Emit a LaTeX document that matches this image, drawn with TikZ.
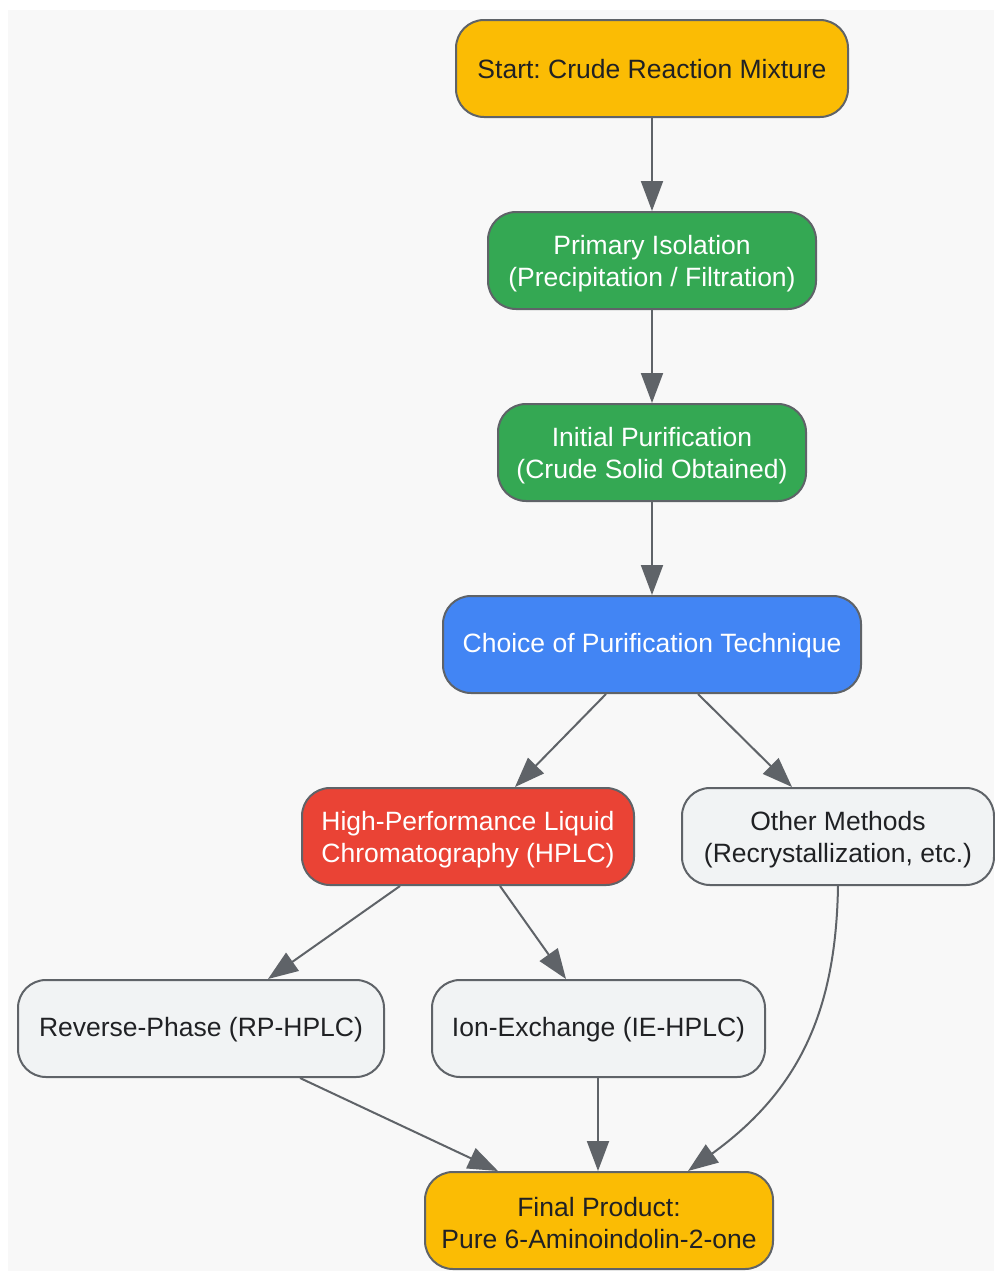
\documentclass[tikz,border=0pt]{standalone}
\usepackage{fontspec}
\setmainfont{Liberation Sans}
\usetikzlibrary{arrows.meta}
\frenchspacing
\definecolor{bgc}{HTML}{F8F8F8}
\definecolor{edgec}{HTML}{5F6368}
\definecolor{yel}{HTML}{FBBC04}
\definecolor{grn}{HTML}{34A853}
\definecolor{blu}{HTML}{4285F4}
\definecolor{redc}{HTML}{EA4335}
\definecolor{lgr}{HTML}{F1F3F4}
\definecolor{txt}{HTML}{202124}
\newcommand{\tallstrut}{\rule{0pt}{25pt}}
\tikzset{
  box/.style={draw=edgec, line width=2pt, rounded corners=28pt, align=center,
    font=\fontsize{26.5}{32}\selectfont\frenchspacing, inner sep=0pt, minimum height=97pt},
  dark/.style={box, text=txt},
  light/.style={box, text=white},
  conn/.style={draw=edgec, line width=2pt, -{Triangle[length=30pt,width=22pt]}}
}
\begin{document}
\begin{tikzpicture}[x=1pt,y=-1pt]
\useasboundingbox (0,0) rectangle (994,1272);
\fill[white] (0,0) rectangle (994,1272);
\fill[bgc] (8,10) rectangle (994,1271);

\node[dark, fill=yel, minimum width=392pt] (start) at (652,68.5) {\rule{0pt}{21pt}Start: Crude Reaction Mixture};
\node[light, fill=grn, minimum width=328pt] (prim) at (652,260.5) {\tallstrut Primary Isolation\\(Precipitation / Filtration)};
\node[light, fill=grn, minimum width=308pt] (init) at (652,452.5) {\tallstrut Initial Purification\\(Crude Solid Obtained)};
\node[light, fill=blu, minimum width=418pt] (choice) at (652,644.5) {\rule{0pt}{21pt}Choice of Purification Technique};
\node[light, fill=redc, minimum width=332pt] (hplc) at (468,836.5) {\tallstrut High-Performance Liquid\\Chromatography (HPLC)};
\node[dark, fill=lgr, minimum width=312pt] (other) at (838,836.5) {\tallstrut Other Methods\\(Recrystallization, etc.)};
\node[dark, fill=lgr, minimum width=366pt] (rp) at (201,1028.5) {\rule{0pt}{21pt}Reverse-Phase (RP-HPLC)};
\node[dark, fill=lgr, minimum width=333pt] (ie) at (598.5,1028.5) {\rule{0pt}{21pt}Ion-Exchange (IE-HPLC)};
\node[dark, fill=yel, minimum width=348pt] (final) at (599,1220.5) {\tallstrut Final Product:\\Pure 6-Aminoindolin-2-one};

\draw[conn] (start.south) -- (prim.north);
\draw[conn] (prim.south) -- (init.north);
\draw[conn] (init.south) -- (choice.north);
\draw[conn] (choice.south -| 606,0) -- (hplc.north -| 515,0);
\draw[conn] (choice.south -| 698,0) -- (other.north -| 792,0);
\draw[conn] (hplc.south -| 400,0) -- (rp.north -| 268,0);
\draw[conn] (hplc.south -| 500,0) -- (ie.north -| 566,0);
\draw[conn] (rp.south -| 300,0) -- (final.north -| 498,0);
\draw[conn] (ie.south -| 598,0) -- (final.north -| 598,0);
\draw[conn] (other.south) .. controls (836,1010) and (800,1090) .. (final.north -| 688,0);
\end{tikzpicture}
\end{document}
